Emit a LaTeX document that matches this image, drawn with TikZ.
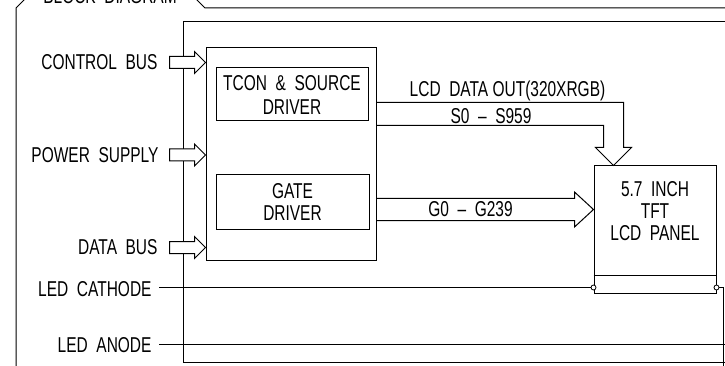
\documentclass[tikz,border=0pt]{standalone}
\usepackage{fontspec}
\setmainfont{Liberation Sans}[FakeStretch=0.72]
\usetikzlibrary{calc}
\begin{document}
\begin{tikzpicture}[x=1pt,y=-1pt,line width=1pt,
  lbl/.style={inner sep=0pt,font=\fontsize{21.5}{22}\selectfont},
  box/.style={draw,inner sep=0pt,align=center,font=\fontsize{21.5}{22}\selectfont},
  dot/.style={circle,draw,fill=white,inner sep=0pt,minimum size=5pt,line width=0.8pt},
  inarrow/.pic={\draw[fill=white] (0,0) -- (-11,-11) -- (-11,-6) -- (-36,-6) -- (-36,6) -- (-11,6) -- (-11,11) -- cycle;}]
\useasboundingbox (0,0) rectangle (725,366);
% outer frame with tab
\draw (16,372) -- (16,8) -- (36,-12) -- (185,-12) -- (205,8) -- (735,8);
\node[lbl,anchor=base] (title) at (110,3.5) {BLOCK\ \ DIAGRAM};
% inner frame
\draw (735,22) -- (183,22) -- (183,362) -- (735,362);
% blocks
\node[box,minimum width=170pt,minimum height=212pt] (blk) at (291,154) {};
\node[box,minimum width=152pt,minimum height=53pt] (tcon) at (292,94.5) {TCON\ \ \&\ \ SOURCE\\[2pt]DRIVER};
\node[box,minimum width=153pt,minimum height=54pt] (gate) at (292.5,202) {GATE\\DRIVER};
\node[box,minimum width=122pt,minimum height=127pt] (panel) at (655,229.5) {};
\node[lbl,align=center] (ptext) at (655,211) {5.7\ \ INCH\\TFT\\LCD\ \ PANEL};
\draw ($(panel.south west)+(0,-18)$) -- ($(panel.south east)+(0,-18)$);
% left labels
\node[lbl,anchor=east] (lcb) at (158,62.5) {CONTROL\ \ BUS};
\node[lbl,anchor=east] (lps) at (159,155) {POWER\ \ SUPPLY};
\node[lbl,anchor=east] (ldb) at (158,247.5) {DATA\ \ BUS};
\node[lbl,anchor=east,inner xsep=7pt] (lca) at (159,289.5) {LED\ \ CATHODE};
\node[lbl,anchor=east,inner xsep=7pt] (lan) at (159,345) {LED\ \ ANODE};
% input arrows
\pic at (blk.west |- lcb.east) {inarrow};
\pic at (blk.west |- lps.east) {inarrow};
\pic at (blk.west |- ldb.east) {inarrow};
% source output arrow
\coordinate (stip) at ($(panel.north west)+(20,0)$);
\draw ($(blk.north east)+(0,55)$) -| ($(stip)+(10,-18)$) -- ($(stip)+(18,-18)$) -- (stip) -- ($(stip)+(-18,-18)$) -- ($(stip)+(-10,-18)$) |- ($(blk.north east)+(0,78)$);
\node[lbl,anchor=base] (lcdout) at (507.5,97) {LCD\ \ DATA OUT(320XRGB)};
\node[lbl] (slab) at (491,116.5) {S0\ \ –\ \ S959};
% gate output arrow
\coordinate (gtip) at ($(panel.north west)+(0,44)$);
\draw ($(blk.east |- gtip)+(0,-11)$) -- ($(gtip)+(-19,-11)$) -- ($(gtip)+(-19,-17.5)$) -- (gtip) -- ($(gtip)+(-19,17.5)$) -- ($(gtip)+(-19,11)$) -- ($(blk.east |- gtip)+(0,11)$);
\node[lbl] (glab) at (470.5,209) {G0\ \ –\ \ G239};
% LED wires
\node[dot] (cl) at ($(panel.south west)+(0,-6)$) {};
\node[dot] (cr) at ($(panel.south east)+(0,-6)$) {};
\draw (lca.east |- cl) -- (cl);
\coordinate (rend) at (723,372);
\draw (cr) -| (rend);
\coordinate (aend) at (735,344);
\draw (lan.east |- aend) -- (aend);
\end{tikzpicture}
\end{document}
